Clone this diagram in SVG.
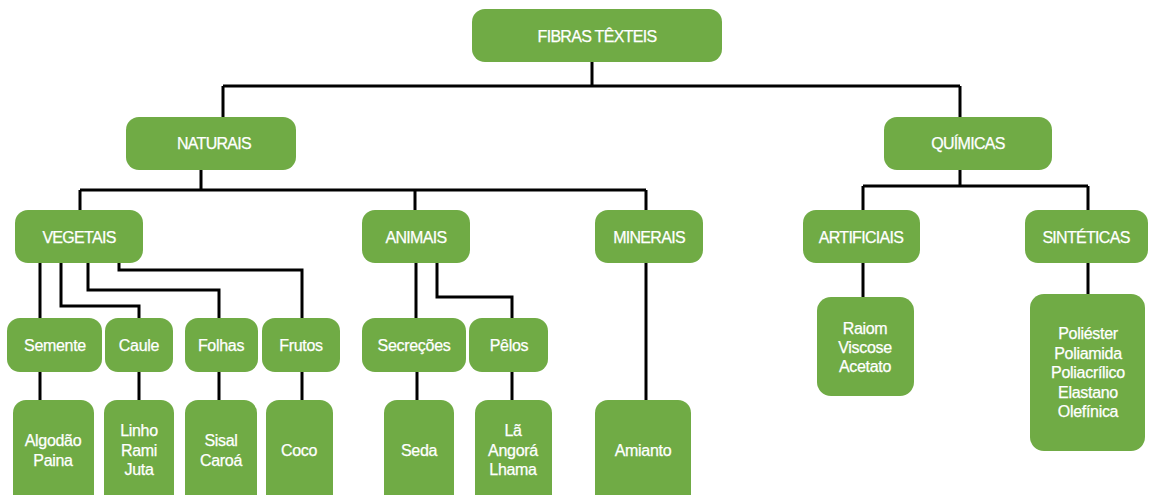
<svg xmlns="http://www.w3.org/2000/svg" width="1149" height="495" viewBox="0 0 1149 495">
<style>
.box{fill:#70ab45}
.t{font-family:"Liberation Sans",Arial,sans-serif;fill:#ffffff;stroke:#ffffff;stroke-width:0.25;text-anchor:middle;font-size:16px;letter-spacing:-0.3px}
.c{font-size:16px;letter-spacing:-0.7px}
.ln{fill:none;stroke:#000;stroke-width:3}
</style>
<rect width="1149" height="495" fill="#ffffff"/>
<g id="connectors" class="ln">
<path d="M592 62V86M223 86H960M223 86V117M960 86V117"/>
<path d="M201 170V190M80 190H646M80 190V210M415 190V210M646 190V210"/>
<path d="M960 170V186M863 186H1088M863 186V210M1088 186V210"/>
<path d="M40 263V318M61 263V306H139V318M88 263V290H219V318M119 263V270H302V318"/>
<path d="M40 372V400M139 372V400M219 372V400M302 372V400"/>
<path d="M416 263V318M437 263V297H512V318M417 372V400M512 372V400"/>
<path d="M646 263V400"/>
<path d="M863 263V297M1088 263V294"/>
</g>
<g id="fibras"><rect class="box" x="472" y="9" width="250" height="53" rx="13"/><text class="t c" x="597" y="42">FIBRAS TÊXTEIS</text></g>
<g id="naturais"><rect class="box" x="126" y="117" width="170" height="53" rx="13"/><text class="t c" x="214" y="149">NATURAIS</text></g>
<g id="quimicas"><rect class="box" x="884" y="117" width="168" height="53" rx="13"/><text class="t c" x="968" y="149">QUÍMICAS</text></g>
<g id="vegetais"><rect class="box" x="15" y="210" width="128" height="53" rx="13"/><text class="t c" x="79" y="243">VEGETAIS</text></g>
<g id="animais"><rect class="box" x="362" y="210" width="108" height="53" rx="13"/><text class="t c" x="416" y="243">ANIMAIS</text></g>
<g id="minerais"><rect class="box" x="595" y="210" width="108" height="53" rx="13"/><text class="t c" x="649" y="243">MINERAIS</text></g>
<g id="artificiais"><rect class="box" x="803" y="210" width="117" height="53" rx="13"/><text class="t c" x="861" y="243">ARTIFICIAIS</text></g>
<g id="sinteticas"><rect class="box" x="1025" y="210" width="123" height="53" rx="13"/><text class="t c" x="1086" y="243">SINTÉTICAS</text></g>
<g id="semente"><rect class="box" x="7" y="318" width="95" height="54" rx="13"/><text class="t" x="55" y="351">Semente</text></g>
<g id="caule"><rect class="box" x="105" y="318" width="68" height="54" rx="13"/><text class="t" x="139" y="351">Caule</text></g>
<g id="folhas"><rect class="box" x="185" y="318" width="73" height="54" rx="13"/><text class="t" x="221" y="351">Folhas</text></g>
<g id="frutos"><rect class="box" x="262" y="318" width="78" height="54" rx="13"/><text class="t" x="301" y="351">Frutos</text></g>
<g id="secrecoes"><rect class="box" x="362" y="318" width="104" height="54" rx="13"/><text class="t" x="414" y="351">Secreções</text></g>
<g id="pelos"><rect class="box" x="469" y="318" width="79" height="54" rx="13"/><text class="t" x="509" y="351">Pêlos</text></g>
<g id="algodao"><rect class="box" x="13" y="400" width="81" height="110" rx="13"/><text class="t" x="53" y="446">Algodão</text><text class="t" x="53" y="466">Paina</text></g>
<g id="linho"><rect class="box" x="104" y="400" width="70" height="110" rx="13"/><text class="t" x="139" y="436">Linho</text><text class="t" x="139" y="456">Rami</text><text class="t" x="139" y="475">Juta</text></g>
<g id="sisal"><rect class="box" x="185" y="400" width="72" height="110" rx="13"/><text class="t" x="221" y="446">Sisal</text><text class="t" x="221" y="466">Caroá</text></g>
<g id="coco"><rect class="box" x="266" y="400" width="67" height="110" rx="13"/><text class="t" x="299" y="456">Coco</text></g>
<g id="seda"><rect class="box" x="384" y="400" width="70" height="110" rx="13"/><text class="t" x="419" y="456">Seda</text></g>
<g id="la"><rect class="box" x="475" y="400" width="77" height="110" rx="13"/><text class="t" x="513" y="436">Lã</text><text class="t" x="513" y="456">Angorá</text><text class="t" x="513" y="475">Lhama</text></g>
<g id="amianto"><rect class="box" x="595" y="400" width="96" height="110" rx="13"/><text class="t" x="643" y="456">Amianto</text></g>
<g id="raiom"><rect class="box" x="817" y="297" width="97" height="99" rx="14"/><text class="t" x="865" y="334">Raiom</text><text class="t" x="865" y="353">Viscose</text><text class="t" x="865" y="372">Acetato</text></g>
<g id="poliester"><rect class="box" x="1030" y="294" width="115" height="157" rx="14"/><text class="t" x="1088" y="339">Poliéster</text><text class="t" x="1088" y="359">Poliamida</text><text class="t" x="1088" y="378">Poliacrílico</text><text class="t" x="1088" y="398">Elastano</text><text class="t" x="1088" y="417">Olefínica</text></g>
</svg>
